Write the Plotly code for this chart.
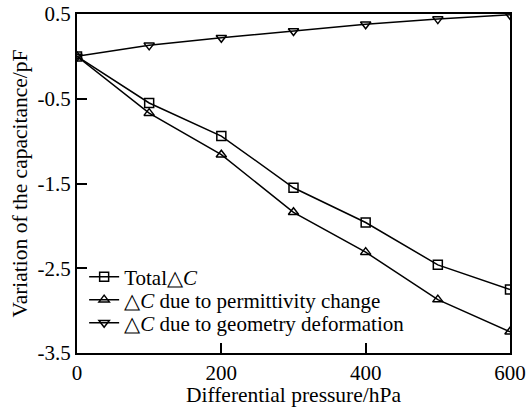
import plotly.graph_objects as go

pressure = [0, 100, 200, 300, 400, 500, 600]
total_dc = [0.0, -0.55, -0.94, -1.55, -1.96, -2.46, -2.75]
perm_dc = [0.0, -0.67, -1.16, -1.84, -2.31, -2.87, -3.25]
geom_dc = [0.0, 0.13, 0.22, 0.30, 0.38, 0.44, 0.49]

y_ticks = [0.5, -0.5, -1.5, -2.5, -3.5]
y_tick_text = ["0.5", "-0.5", "-1.5", "-2.5", "-3.5"]
x_ticks = [0, 200, 400, 600]

names = ["Total\u25b3<i>C</i>",
         "\u25b3<i>C</i> due to permittivity change",
         "\u25b3<i>C</i> due to geometry deformation"]
symbols = ["square-open", "triangle-up-open", "triangle-down-open"]
legend_ids = ["legend", "legend2", "legend3"]
legend_y = [0.2242, 0.1563, 0.0885]

FAM = "Liberation Serif"
font = dict(family=FAM, size=21, color="black")

fig = go.Figure()
for ys, nm, sym, lg in zip([total_dc, perm_dc, geom_dc], names, symbols, legend_ids):
    fig.add_trace(go.Scatter(
        x=pressure, y=ys, name=nm, mode="lines+markers", legend=lg,
        line=dict(color="black", width=1.5),
        marker=dict(symbol=sym, size=9, color="black", line=dict(width=1.5, color="black")),
    ))

legends = {}
for lg, ly in zip(legend_ids, legend_y):
    legends[lg] = dict(x=0.0165, y=ly, xanchor="left", yanchor="middle",
                       bgcolor="rgba(0,0,0,0)", font=font, itemwidth=30)

fig.update_layout(
    width=527, height=407,
    margin=dict(l=77, r=17, t=14, b=54, autoexpand=False),
    paper_bgcolor="white", plot_bgcolor="white",
    font=font,
    showlegend=True,
    **legends,
)
fig.update_xaxes(
    range=[0, 600], tickvals=x_ticks, showgrid=False, zeroline=False,
    showline=True, linecolor="black", linewidth=2, mirror=True,
    ticks="inside", ticklen=10, tickwidth=1.5, tickcolor="black",
    automargin=False, tickfont=font,
    title=dict(text="Differential pressure/hPa", standoff=4, font=dict(family=FAM, size=21.5, color="black")),
)
fig.update_yaxes(
    range=[-3.5, 0.5], tickvals=y_ticks, ticktext=y_tick_text, showgrid=False, zeroline=False,
    showline=True, linecolor="black", linewidth=2, mirror=True,
    ticks="inside", ticklen=10, tickwidth=1.5, tickcolor="black",
    automargin=False, tickfont=font,
    title=dict(text="Variation of the capacitance/pF", standoff=4, font=dict(family=FAM, size=21.5, color="black")),
)
fig.write_html("out.html", config={"displayModeBar": False},
               post_script="document.body.style.margin='0';")
